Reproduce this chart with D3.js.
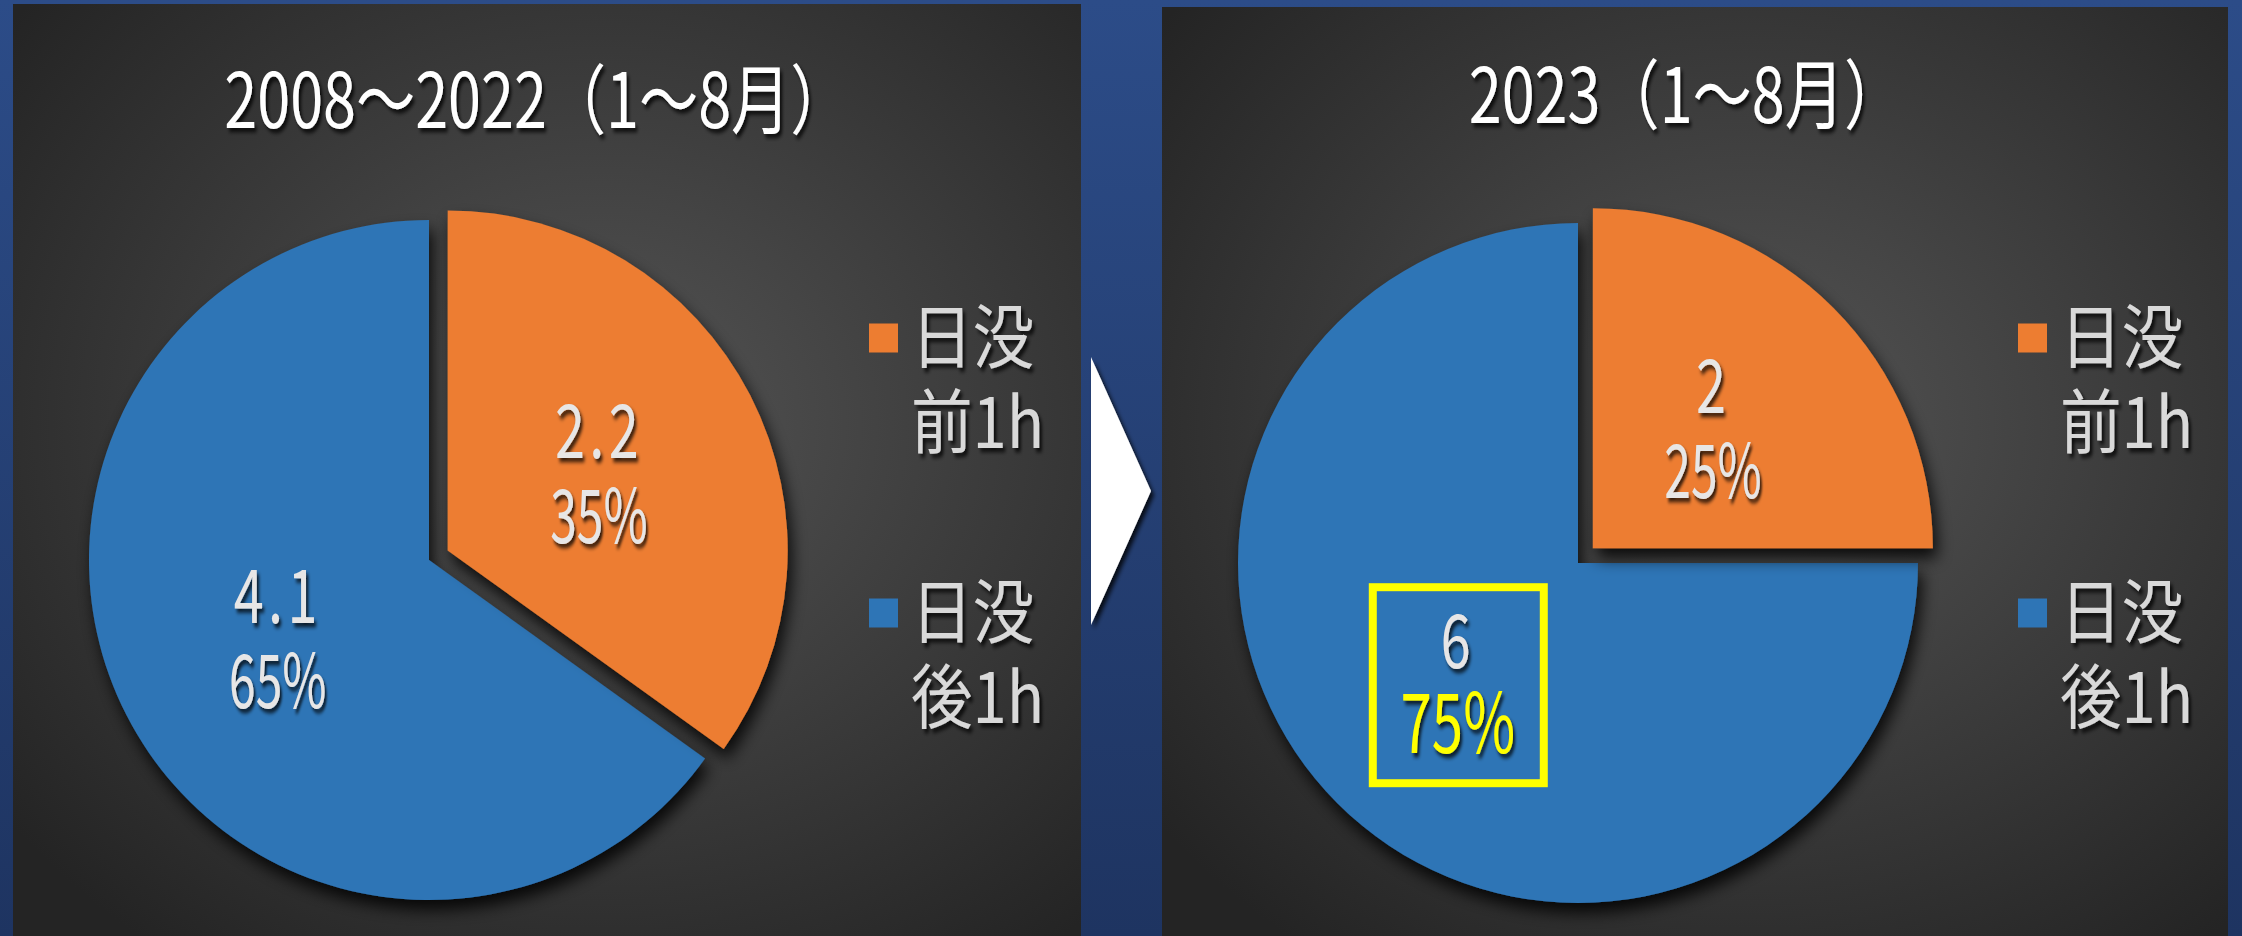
<!DOCTYPE html>
<html>
<head>
<meta charset="utf-8">
<title>日没前後1時間</title>
<script src="https://cdn.jsdelivr.net/npm/d3@7"></script>
<style>
  body { margin: 0; background: #1f3562; overflow: hidden; }
  svg { display: block; }
  text { font-family: "Noto Sans CJK JP", sans-serif; }
</style>
</head>
<body>
<div id="chart"></div>
<script>
// chart data
const categories = ["日没前1h", "日没後1h"];
const legendLines = [["日没", "前1h"], ["日没", "後1h"]];
const titles = ["2008～2022（1～8月）", "2023（1～8月）"];
const values2008 = [2.2, 4.1];
const values2023 = [2, 6];
const colors = ["#ed7d31", "#2e75b6"];

const W = 2242, H = 936;
const radius = 340, explode = 21;

// layout of the two panels
const panels = [
  {x: 13, y: 4, w: 1068, title: titles[0], values: values2008, titleY: 128, cy: 560, highlight: -1},
  {x: 1162, y: 7, w: 1066, title: titles[1], values: values2023, titleY: 123, cy: 563, highlight: 1}
];

const svg = d3.select("#chart").append("svg")
  .attr("width", W)
  .attr("height", H);

const defs = svg.append("defs");

const frame = defs.append("linearGradient").attr("id", "frame")
  .attr("x1", 0).attr("y1", 0).attr("x2", 0).attr("y2", 1);
frame.append("stop").attr("offset", "0%").attr("stop-color", "#2c4c88");
frame.append("stop").attr("offset", "100%").attr("stop-color", "#1e3461");

const bg = defs.append("radialGradient").attr("id", "panelbg")
  .attr("cx", 0.55).attr("cy", 0.45).attr("r", 0.7);
bg.append("stop").attr("offset", "0%").attr("stop-color", "#555555");
bg.append("stop").attr("offset", "100%").attr("stop-color", "#242424");

const sliceShadow = defs.append("filter").attr("id", "sliceShadow")
  .attr("x", "-20%").attr("y", "-20%").attr("width", "150%").attr("height", "150%");
sliceShadow.append("feDropShadow")
  .attr("dx", 4).attr("dy", 10).attr("stdDeviation", 8)
  .attr("flood-color", "#000").attr("flood-opacity", 0.85);

const textShadow = defs.append("filter").attr("id", "textShadow")
  .attr("x", "-20%").attr("y", "-20%").attr("width", "150%").attr("height", "150%");
textShadow.append("feDropShadow")
  .attr("dx", 3).attr("dy", 4).attr("stdDeviation", 2)
  .attr("flood-color", "#000").attr("flood-opacity", 0.8);

svg.append("rect")
  .attr("width", W).attr("height", H)
  .attr("fill", "url(#frame)");

// arrow between the two panels
svg.append("polygon")
  .attr("points", "1091,357 1151,491 1091,625")
  .attr("fill", "#ffffff")
  .attr("filter", "url(#textShadow)");

const pie = d3.pie().sort(null).value(d => d);
const arc = d3.arc().innerRadius(0).outerRadius(radius);
const fmtValue = d3.format(".1~f");
const fmtPct = d3.format(".0%");

panels.forEach(p => {
  const g = svg.append("g").attr("transform", `translate(${p.x},0)`);

  g.append("rect")
    .attr("x", 0).attr("y", p.y)
    .attr("width", p.w).attr("height", H - p.y)
    .attr("fill", "url(#panelbg)");

  // title
  g.append("text")
    .attr("transform", `translate(524,${p.titleY}) scale(0.78,1)`)
    .attr("text-anchor", "middle")
    .attr("font-size", 76)
    .attr("fill", "#ffffff")
    .attr("filter", "url(#textShadow)")
    .text(p.title);

  const total = d3.sum(p.values);
  const arcs = pie(p.values).map((d, i) => {
    const mid = (d.startAngle + d.endAngle) / 2;
    const off = i === 0 ? explode : 0;
    return Object.assign(d, {i: i, dx: Math.sin(mid) * off, dy: -Math.cos(mid) * off});
  });

  const pieG = g.append("g").attr("transform", `translate(416,${p.cy})`);

  // blue first, then the exploded orange on top so its shadow falls on the blue
  const order = arcs.slice().reverse();
  pieG.selectAll("path.slice")
    .data(order)
    .join("path")
      .attr("class", "slice")
      .attr("d", arc)
      .attr("transform", d => `translate(${d.dx},${d.dy})`)
      .attr("fill", d => colors[d.i])
      .attr("filter", "url(#sliceShadow)");

  arcs.forEach(d => {
    const c = arc.centroid(d);
    const cx = c[0] + d.dx, cy = c[1] + d.dy;
    const hl = d.i === p.highlight;

    pieG.append("text")
      .attr("transform", `translate(${cx},${cy - 15}) scale(0.72,1)`)
      .attr("text-anchor", "middle")
      .attr("font-size", 75)
      .attr("letter-spacing", 6)
      .attr("fill", "#e7e6e6")
      .attr("filter", "url(#textShadow)")
      .text(fmtValue(d.data));

    pieG.append("text")
      .attr("transform", `translate(${cx},${cy + 70}) scale(${hl ? 0.68 : 0.64},1)`)
      .attr("text-anchor", "middle")
      .attr("font-size", hl ? 83 : 75)
      .attr("fill", hl ? "#ffff00" : "#e7e6e6")
      .attr("filter", "url(#textShadow)")
      .text(fmtPct(d.data / total));

    if (hl) {
      pieG.append("rect")
        .attr("x", cx - 85).attr("y", cy - 96)
        .attr("width", 171).attr("height", 196)
        .attr("fill", "none")
        .attr("stroke", "#ffff00")
        .attr("stroke-width", 8);
    }
  });

  // legend
  const leg = g.selectAll("g.legend")
    .data(categories)
    .join("g")
      .attr("class", "legend")
      .attr("transform", (d, i) => `translate(856,${338 + i * 275})`);

  leg.append("rect")
    .attr("x", 0).attr("y", -14.5)
    .attr("width", 29).attr("height", 29)
    .attr("fill", (d, i) => colors[i]);

  leg.each(function(d, i) {
    legendLines[i].forEach((line, k) => {
      d3.select(this).append("text")
        .attr("transform", `translate(42,${25 + k * 85}) scale(0.88,1)`)
        .attr("font-size", 70)
        .attr("fill", "#d9d9d9")
        .attr("filter", "url(#textShadow)")
        .text(line);
    });
  });
});
</script>
</body>
</html>
